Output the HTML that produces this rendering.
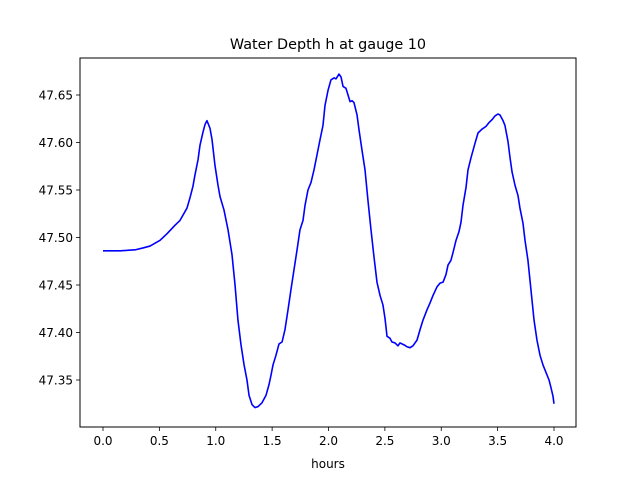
<!DOCTYPE html>
<html><head><meta charset="utf-8"><style>
body{margin:0;background:#fff}
svg text{font-family:"DejaVu Sans","Liberation Sans",sans-serif;fill:#000}
</style></head><body>
<svg width="640" height="480" viewBox="0 0 640 480">
<rect x="0" y="0" width="640" height="480" fill="#fff"/>
<text x="328" y="49" font-size="14.4" text-anchor="middle">Water Depth h at gauge 10</text>
<g id="axes"></g>
<text x="328" y="468" font-size="12" text-anchor="middle">hours</text>
</svg>
<script>
const times=[0,0.151,0.284,0.355,0.417,0.506,0.568,0.639,0.683,0.745,0.772,0.798,0.816,0.843,0.860,0.887,0.905,0.922,0.949,0.967,0.993,1.020,1.038,1.073,1.109,1.144,1.171,1.197,1.224,1.251,1.277,1.295,1.322,1.348,1.375,1.410,1.446,1.472,1.490,1.508,1.534,1.561,1.588,1.614,1.641,1.667,1.694,1.721,1.747,1.774,1.792,1.818,1.845,1.871,1.898,1.925,1.951,1.969,1.996,2.022,2.049,2.067,2.093,2.111,2.129,2.155,2.173,2.191,2.209,2.226,2.253,2.271,2.297,2.324,2.350,2.377,2.404,2.430,2.457,2.483,2.501,2.519,2.545,2.563,2.590,2.616,2.634,2.670,2.696,2.723,2.749,2.785,2.812,2.838,2.874,2.900,2.927,2.962,2.989,3.016,3.042,3.060,3.086,3.104,3.131,3.157,3.175,3.193,3.220,3.237,3.264,3.299,3.326,3.361,3.397,3.424,3.450,3.477,3.503,3.521,3.548,3.565,3.592,3.610,3.628,3.654,3.681,3.698,3.725,3.743,3.769,3.787,3.805,3.823,3.849,3.876,3.902,3.929,3.956,3.973,3.991,4.0];
const depths=[47.486,47.486,47.487,47.489,47.491,47.497,47.504,47.513,47.518,47.531,47.542,47.554,47.566,47.582,47.597,47.611,47.619,47.623,47.615,47.603,47.576,47.555,47.543,47.529,47.508,47.482,47.450,47.413,47.387,47.366,47.350,47.334,47.324,47.321,47.322,47.326,47.334,47.345,47.355,47.366,47.376,47.388,47.390,47.403,47.424,47.445,47.466,47.487,47.508,47.518,47.534,47.550,47.558,47.571,47.587,47.603,47.618,47.639,47.655,47.666,47.668,47.667,47.672,47.669,47.659,47.657,47.650,47.643,47.644,47.642,47.629,47.613,47.592,47.571,47.539,47.508,47.479,47.453,47.439,47.429,47.415,47.396,47.394,47.390,47.389,47.386,47.389,47.387,47.385,47.384,47.386,47.392,47.403,47.413,47.424,47.431,47.439,47.448,47.452,47.453,47.461,47.471,47.476,47.484,47.497,47.506,47.516,47.534,47.553,47.571,47.584,47.599,47.610,47.614,47.617,47.621,47.624,47.628,47.630,47.629,47.623,47.618,47.601,47.584,47.569,47.555,47.544,47.531,47.515,47.497,47.476,47.455,47.434,47.413,47.392,47.376,47.366,47.358,47.350,47.342,47.333,47.325];
const xTicks=[0,0.5,1,1.5,2,2.5,3,3.5,4];
const xTickLabels=["0.0","0.5","1.0","1.5","2.0","2.5","3.0","3.5","4.0"];
const yTicks=[47.35,47.40,47.45,47.50,47.55,47.60,47.65];
const yTickLabels=["47.35","47.40","47.45","47.50","47.55","47.60","47.65"];

const L=80,R=576,T=58,B=427;
const sx=t=>103+(t-0)*112.75;
const sy=v=>95+(47.65-v)*950;
const NS="http://www.w3.org/2000/svg";
const g=document.getElementById('axes');
function mk(tag,attrs){const e=document.createElementNS(NS,tag);for(const k in attrs)e.setAttribute(k,attrs[k]);g.appendChild(e);return e;}

let d=times.map((t,i)=>(i?'L':'M')+sx(t).toFixed(2)+','+sy(depths[i]).toFixed(2)).join(' ');
const line=mk('path',{d:d,fill:'none',stroke:'#0000ff','stroke-width':1.6,'stroke-linejoin':'round'});



const frame=mk('rect',{x:L,y:T,width:R-L,height:B-T,fill:'none',stroke:'#000','stroke-width':1});



xTicks.forEach((t,i)=>{
  const x=sx(t);
  const tk=mk('line',{x1:x,x2:x,y1:B,y2:B+4,stroke:'#000','stroke-width':0.8});
  
  
  const tx=mk('text',{x:x,y:B+18,'font-size':12,'text-anchor':'middle'});
  tx.textContent=xTickLabels[i];
  
  
});
yTicks.forEach((v,i)=>{
  const y=sy(v);
  const tk=mk('line',{x1:L-4,x2:L,y1:y,y2:y,stroke:'#000','stroke-width':0.8});
  
  
  const tx=mk('text',{x:L-7,y:y+4.5,'font-size':12,'text-anchor':'end'});
  tx.textContent=yTickLabels[i];
  
  
});
</script>
</body></html>
